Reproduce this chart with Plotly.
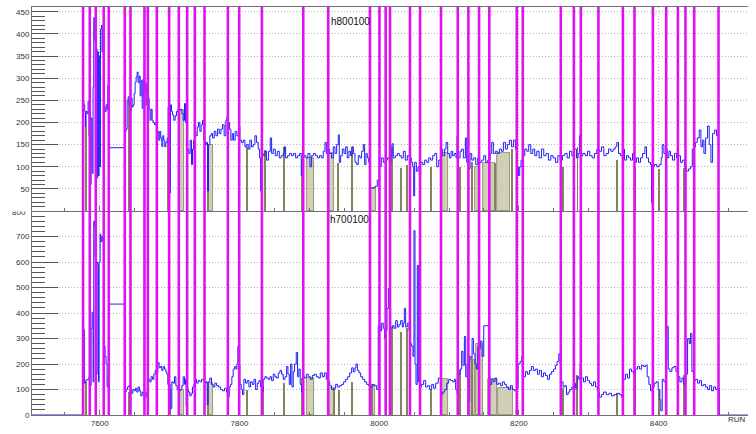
import plotly.graph_objects as go
from plotly.subplots import make_subplots

# ---------------- h800100 : step histogram per run ----------------
top_runs = [7575.5, 7577.1, 7578.5, 7579.5, 7580.4, 7581.9, 7583.3, 7584.7, 7586.1, 7587.6,
            7589.0, 7590.4, 7591.4, 7592.8, 7594.3, 7595.2, 7596.2, 7597.1, 7598.1, 7599.0,
            7600.0, 7601.0, 7602.4, 7603.3, 7604.3, 7605.3, 7606.2, 7607.6, 7609.1, 7610.5,
            7611.5, 7612.9, 7635.8, 7637.7, 7639.2, 7640.6, 7642.0, 7643.5, 7644.9, 7646.3,
            7647.8, 7649.2, 7650.6, 7652.1, 7653.5, 7654.9, 7656.4, 7657.8, 7659.2, 7660.7,
            7662.1, 7663.5, 7665.0, 7666.4, 7667.8, 7669.3, 7670.7, 7672.1, 7673.5, 7675.0,
            7676.4, 7678.3, 7680.2, 7681.7, 7683.1, 7684.5, 7686.0, 7687.4, 7688.8, 7690.3,
            7691.7, 7693.1, 7694.6, 7696.5, 7697.9, 7699.3, 7700.3, 7701.3, 7702.7, 7704.1,
            7706.0, 7707.9, 7709.8, 7711.8, 7713.7, 7715.6, 7717.5, 7719.4, 7721.3, 7722.7,
            7724.2, 7725.6, 7727.5, 7729.4, 7731.3, 7732.8, 7734.2, 7735.6, 7737.5, 7739.5,
            7741.4, 7743.3, 7745.2, 7747.1, 7749.0, 7750.9, 7752.8, 7754.3, 7755.7, 7757.6,
            7759.5, 7761.4, 7763.8, 7766.2, 7768.6, 7771.0, 7773.4, 7775.8, 7778.1, 7780.5,
            7782.0, 7783.9, 7785.8, 7787.7, 7789.7, 7791.6, 7793.9, 7796.3, 7798.7, 7800.6,
            7803.0, 7805.4, 7807.8, 7810.1, 7812.5, 7814.9, 7817.3, 7819.7, 7822.1, 7824.5,
            7826.9, 7828.8, 7830.2, 7831.6, 7834.0, 7836.4, 7838.8, 7841.7, 7844.1, 7846.0,
            7848.4, 7851.2, 7854.1, 7857.0, 7859.8, 7862.7, 7864.1, 7866.0, 7868.9, 7871.8,
            7874.6, 7877.5, 7880.4, 7883.2, 7886.1, 7888.5, 7889.9, 7892.3, 7895.2, 7898.0,
            7900.9, 7903.3, 7906.1, 7909.0, 7911.9, 7914.7, 7917.6, 7920.0, 7922.4, 7924.3,
            7926.7, 7929.1, 7931.9, 7934.3, 7936.7, 7939.1, 7941.5, 7942.9, 7944.8, 7947.2,
            7949.6, 7952.0, 7954.3, 7956.7, 7959.1, 7961.0, 7963.0, 7965.4, 7967.8, 7970.1,
            7972.5, 7974.9, 7977.3, 7979.2, 7981.1, 7983.0, 7984.9, 7987.3, 7994.0, 7997.3,
            8000.2, 8003.0, 8005.9, 8008.8, 8011.6, 8014.5, 8016.9, 8018.3, 8020.2, 8023.1,
            8026.0, 8028.8, 8031.7, 8034.6, 8037.4, 8040.3, 8043.2, 8046.0, 8048.0, 8049.4,
            8050.8, 8053.2, 8055.6, 8057.5, 8059.4, 8062.3, 8065.1, 8068.0, 8070.9, 8073.7,
            8076.6, 8079.5, 8082.3, 8085.2, 8088.5, 8090.9, 8093.8, 8095.7, 8098.1, 8100.5,
            8102.9, 8105.2, 8107.6, 8110.0, 8111.5, 8113.4, 8115.8, 8118.1, 8120.5, 8123.4,
            8125.3, 8127.7, 8130.1, 8132.5, 8135.3, 8138.2, 8141.1, 8143.9, 8146.8, 8149.7,
            8152.5, 8155.4, 8158.7, 8161.1, 8163.5, 8166.4, 8169.2, 8172.1, 8175.0, 8177.8,
            8180.7, 8183.6, 8186.4, 8189.3, 8192.2, 8195.0, 8197.4, 8199.3, 8201.2, 8203.1,
            8205.5, 8208.4, 8211.3, 8214.1, 8217.0, 8219.9, 8222.7, 8225.6, 8228.9, 8232.3,
            8235.6, 8239.0, 8242.3, 8245.7, 8249.0, 8252.3, 8255.7, 8259.0, 8262.4, 8265.7,
            8269.1, 8272.4, 8275.8, 8279.1, 8282.4, 8284.8, 8286.7, 8288.6, 8291.5, 8294.9,
            8298.2, 8301.5, 8304.9, 8308.2, 8311.6, 8314.9, 8318.3, 8321.6, 8325.0, 8328.3,
            8331.6, 8335.0, 8337.8, 8340.2, 8342.6, 8345.5, 8348.3, 8351.2, 8354.1, 8356.9,
            8359.8, 8362.7, 8365.5, 8368.4, 8371.3, 8374.1, 8377.0, 8380.4, 8382.7, 8385.6,
            8388.4, 8389.9, 8391.3, 8394.2, 8397.5, 8400.9, 8403.7, 8405.2, 8407.6, 8410.0,
            8412.3, 8414.7, 8417.1, 8420.0, 8422.9, 8425.7, 8428.6, 8431.4, 8434.3, 8437.2,
            8440.0, 8442.9, 8445.8, 8448.2, 8450.5, 8452.9, 8455.3, 8458.2, 8460.6, 8463.0,
            8464.9, 8467.3, 8470.1, 8472.5, 8474.9, 8477.3, 8480.2, 8483.0, 8485.9]
top_vals = [250, 240, 225, 190, 225, 220, 248, 170, 60, 210,
            85, 280, 437, 385, 340, 366, 75, 360, 80, 350,
            100, 411, 420, 359, 410, 108, 235, 225, 240, 230,
            284, 143, 180, 185, 250, 258, 240, 223, 255, 235,
            240, 265, 291, 303, 314, 290, 305, 260, 295, 232,
            300, 270, 290, 240, 285, 255, 230, 205, 230, 205,
            200, 195, 200, 176, 180, 160, 180, 165, 146, 170,
            160, 145, 155, 165, 235, 225, 41, 240, 225, 217,
            205, 215, 225, 230, 228, 230, 220, 205, 243, 200,
            180, 140, 130, 160, 105, 140, 160, 180, 170, 190,
            200, 180, 195, 205, 160, 150, 155, 45, 150, 170,
            175, 165, 180, 170, 185, 175, 185, 195, 170, 205,
            213, 200, 185, 160, 175, 160, 180, 170, 190, 160,
            155, 160, 145, 150, 140, 160, 145, 150, 170, 155,
            140, 120, 45, 130, 125, 135, 115, 135, 165, 130,
            140, 125, 135, 120, 125, 130, 145, 120, 125, 130,
            125, 130, 120, 125, 130, 80, 120, 125, 120, 130,
            100, 125, 130, 125, 120, 125, 120, 135, 155, 130,
            140, 130, 120, 145, 130, 150, 172, 110, 125, 140,
            130, 145, 120, 135, 125, 145, 130, 110, 105, 125,
            120, 135, 150, 105, 130, 120, 110, 52, 56, 70,
            100, 120, 110, 115, 120, 110, 125, 152, 120, 125,
            130, 125, 120, 135, 115, 125, 120, 110, 100, 34,
            110, 90, 100, 80, 110, 105, 115, 110, 120, 115,
            125, 130, 100, 115, 140, 125, 140, 155, 130, 120,
            135, 125, 130, 120, 170, 120, 135, 140, 120, 165,
            110, 95, 130, 115, 120, 105, 120, 110, 115, 125,
            110, 115, 130, 155, 130, 135, 130, 140, 135, 155,
            140, 150, 160, 145, 160, 140, 100, 80, 100, 115,
            125, 140, 135, 150, 130, 140, 125, 135, 120, 140,
            125, 130, 115, 125, 120, 110, 125, 115, 125, 130,
            120, 135, 125, 140, 120, 130, 170, 125, 130, 125,
            135, 125, 120, 130, 140, 135, 145, 125, 130, 140,
            135, 140, 145, 155, 130, 125, 140, 115, 125, 120,
            115, 130, 110, 120, 110, 120, 130, 145, 120, 110,
            105, 19, 100, 105, 100, 105, 120, 150, 130, 140,
            120, 135, 125, 115, 130, 120, 125, 110, 115, 100,
            90, 95, 100, 140, 145, 155, 165, 183, 145, 160,
            130, 165, 192, 150, 110, 175, 183, 170, 175]

# ---------------- h700100 : step histogram per run ----------------
bot_runs = [7500, 7576.6, 7578.0, 7579.5, 7581.4, 7583.3, 7584.7, 7586.1, 7587.6, 7589.0, 7590.4,
            7591.4, 7592.4, 7593.3, 7594.3, 7595.2, 7596.2, 7597.1, 7598.1, 7599.0, 7600.5,
            7601.4, 7602.9, 7604.3, 7605.3, 7606.2, 7607.6, 7609.1, 7610.5, 7611.9, 7613.4,
            7635.8, 7637.7, 7639.6, 7641.6, 7643.5, 7645.4, 7647.3, 7649.2, 7651.1, 7653.0,
            7654.9, 7656.8, 7658.7, 7660.7, 7662.6, 7664.5, 7666.4, 7668.3, 7669.7, 7671.6,
            7673.5, 7675.5, 7677.4, 7679.3, 7681.2, 7683.1, 7685.0, 7686.9, 7688.8, 7690.7,
            7692.7, 7694.6, 7696.0, 7697.4, 7698.9, 7700.3, 7701.7, 7703.2, 7705.1, 7707.0,
            7708.9, 7710.8, 7713.2, 7715.6, 7717.5, 7719.4, 7721.3, 7722.7, 7723.7, 7725.1,
            7727.0, 7729.0, 7730.9, 7732.8, 7734.7, 7736.6, 7738.5, 7740.9, 7743.3, 7745.7,
            7748.1, 7750.4, 7752.4, 7753.8, 7755.2, 7757.6, 7760.0, 7762.4, 7764.8, 7767.2,
            7770.0, 7772.9, 7775.8, 7778.6, 7781.5, 7783.4, 7785.3, 7787.2, 7789.1, 7791.0,
            7793.0, 7794.9, 7796.3, 7797.7, 7799.2, 7800.6, 7802.5, 7804.4, 7806.3, 7808.7,
            7811.1, 7813.5, 7815.9, 7818.3, 7820.7, 7823.1, 7825.5, 7827.8, 7830.2, 7832.1,
            7834.0, 7836.4, 7838.8, 7841.2, 7843.6, 7846.0, 7848.4, 7850.7, 7853.1, 7855.5,
            7857.9, 7860.3, 7862.7, 7865.1, 7867.5, 7869.4, 7871.3, 7873.2, 7875.1, 7877.0,
            7878.9, 7881.3, 7883.2, 7885.1, 7887.0, 7889.0, 7890.9, 7893.3, 7895.7, 7898.5,
            7901.4, 7904.3, 7907.2, 7910.0, 7912.9, 7915.7, 7918.6, 7921.5, 7924.3, 7926.7,
            7929.1, 7931.9, 7934.8, 7937.7, 7940.5, 7943.4, 7946.3, 7949.1, 7952.0, 7954.9,
            7957.8, 7960.6, 7963.0, 7965.4, 7966.8, 7968.8, 7971.1, 7973.5, 7976.4, 7979.2,
            7982.1, 7985.0, 7987.8, 7990.7, 7993.6, 7996.4, 7998.7, 8001.1, 8003.5, 8005.9,
            8007.8, 8009.7, 8011.2, 8013.1, 8014.5, 8016.4, 8018.8, 8021.2, 8023.6, 8026.0,
            8028.4, 8030.7, 8033.1, 8034.6, 8036.0, 8037.9, 8040.3, 8042.7, 8044.6, 8046.5,
            8048.4, 8049.8, 8051.3, 8052.7, 8054.6, 8056.1, 8058.4, 8060.8, 8063.7, 8066.6,
            8069.4, 8072.3, 8075.2, 8078.0, 8080.9, 8084.7, 8088.0, 8090.9, 8093.8, 8096.6,
            8099.5, 8102.4, 8105.2, 8107.6, 8109.5, 8111.5, 8113.4, 8115.8, 8118.1, 8120.0,
            8122.0, 8123.9, 8125.8, 8127.7, 8129.6, 8131.5, 8133.0, 8134.9, 8137.2, 8139.2,
            8141.1, 8143.0, 8144.9, 8147.3, 8149.7, 8156.4, 8158.7, 8161.1, 8163.5, 8165.9,
            8168.3, 8170.7, 8173.5, 8176.4, 8179.3, 8182.1, 8185.0, 8187.9, 8190.7, 8193.6,
            8196.5, 8198.9, 8201.7, 8204.1, 8206.5, 8209.4, 8212.2, 8215.1, 8218.0, 8220.8,
            8223.7, 8226.6, 8229.4, 8232.3, 8235.2, 8238.0, 8240.9, 8243.8, 8246.6, 8249.5,
            8252.3, 8254.7, 8257.1, 8259.0, 8260.9, 8263.3, 8265.7, 8268.1, 8270.5, 8272.9,
            8275.8, 8278.6, 8281.0, 8283.4, 8285.8, 8287.7, 8289.6, 8292.5, 8295.3, 8298.2,
            8301.1, 8303.9, 8306.8, 8309.7, 8312.5, 8315.4, 8318.2, 8321.1, 8325.0, 8328.8,
            8332.6, 8336.4, 8340.2, 8344.0, 8346.9, 8349.8, 8352.6, 8355.5, 8358.4, 8361.2,
            8364.1, 8367.0, 8369.8, 8372.7, 8375.6, 8378.4, 8381.3, 8383.7, 8386.1, 8388.5,
            8390.9, 8393.7, 8396.6, 8399.4, 8401.8, 8403.2, 8405.2, 8407.6, 8410.0, 8411.9,
            8413.8, 8416.2, 8419.0, 8421.9, 8424.8, 8427.6, 8430.5, 8433.4, 8436.2, 8439.1,
            8441.5, 8443.9, 8445.8, 8447.7, 8450.1, 8453.0, 8455.8, 8458.7, 8461.5, 8464.4,
            8467.3, 8470.1, 8473.0, 8475.9, 8478.7, 8481.6, 8484.0, 8487.0]
bot_vals = [0, 335, 125, 135, 140, 140, 150, 115, 340, 403, 130,
            760, 740, 620, 590, 160, 600, 590, 130, 600, 710,
            680, 700, 680, 120, 270, 230, 200, 110, 150, 435,
            90, 100, 110, 115, 100, 85, 100, 95, 105, 90,
            110, 95, 75, 90, 80, 70, 90, 85, 140, 130,
            150, 140, 160, 175, 165, 205, 185, 190, 175, 190,
            180, 170, 160, 120, 30, 100, 25, 130, 125, 150,
            115, 100, 95, 100, 115, 150, 120, 140, 35, 100,
            90, 75, 85, 110, 120, 140, 125, 135, 130, 140,
            135, 125, 130, 40, 130, 145, 120, 110, 125, 115,
            110, 100, 95, 105, 90, 70, 110, 120, 150, 180,
            190, 180, 200, 270, 200, 120, 100, 80, 140, 125,
            135, 110, 130, 120, 140, 100, 125, 135, 110, 90,
            140, 150, 145, 140, 150, 135, 160, 150, 145, 165,
            175, 160, 140, 150, 190, 160, 120, 200, 110, 170,
            200, 245, 150, 180, 120, 90, 150, 145, 160, 150,
            140, 155, 160, 150, 145, 165, 150, 165, 140, 130,
            115, 100, 105, 120, 110, 115, 120, 130, 140, 150,
            165, 185, 170, 185, 200, 175, 165, 150, 140, 130,
            120, 115, 110, 120, 115, 100, 351, 330, 360, 340,
            300, 330, 418, 496, 420, 340, 350, 340, 370, 345,
            355, 370, 345, 360, 418, 345, 360, 330, 280, 270,
            230, 723, 200, 120, 587, 130, 110, 120, 135, 110,
            115, 100, 120, 105, 125, 145, 80, 90, 100, 125,
            140, 135, 130, 140, 100, 85, 160, 180, 250, 195,
            308, 150, 200, 55, 230, 220, 300, 240, 200, 180,
            270, 260, 290, 230, 350, 150, 120, 140, 130, 145,
            120, 125, 115, 130, 120, 110, 100, 115, 100, 95,
            105, 200, 210, 230, 150, 170, 160, 175, 190, 175,
            180, 160, 175, 150, 165, 155, 140, 160, 170, 180,
            195, 210, 240, 200, 130, 110, 115, 80, 90, 100,
            110, 125, 105, 150, 140, 200, 145, 130, 150, 135,
            125, 115, 130, 110, 90, 70, 80, 90, 80, 85,
            75, 80, 85, 80, 70, 140, 160, 145, 180, 170,
            160, 180, 190, 180, 195, 190, 195, 150, 120, 95,
            110, 125, 130, 100, 60, 16, 140, 130, 220, 347,
            180, 170, 185, 190, 170, 150, 130, 145, 120, 160,
            300, 280, 320, 170, 135, 140, 125, 135, 115, 120,
            110, 100, 115, 95, 110, 100, 105, 0]

# runs with no data after the last recorded run (empty bins drawn on the axis)
bot_tail_runs = [8487.0, 8530]
bot_tail_vals = [0, 0]

# runs marked with vertical magenta lines
marked_runs = [7576.1, 7585.7, 7594.3, 7605.7, 7612.9, 7635.8, 7644.0, 7664.0, 7668.8,
               7681.7, 7699.3, 7713.2, 7725.1, 7736.1, 7750.0, 7783.4, 7799.6, 7832.1,
               7891.3, 7927.1, 7986.8, 8000.4, 8009.3, 8015.5, 8044.1, 8058.5, 8088.5,
               8112.5, 8127.7, 8143.0, 8157.7, 8197.0, 8205.6, 8260.0, 8278.7, 8288.7,
               8313.9, 8348.9, 8365.5, 8391.8, 8410.9, 8427.6, 8438.5, 8451.0, 8485.8]

# flagged single runs (olive bars)
top_flag_runs = [7580.0, 7642.0, 7697.9, 7755.2, 7810.1, 7836.4, 7863.6, 7889.0, 7941.5,
                 7960.6, 8017.8, 8030.7, 8039.3, 8074.2, 8115.8, 8132.5, 8165.9, 8189.8,
                 8263.8, 8283.9, 8340.2, 8366.5, 8400.9, 8436.7]
top_flag_vals = [190, 250, 160, 150, 145, 138, 145, 115, 108,
                 145, 145, 97, 105, 100, 100, 110, 108, 140,
                 100, 145, 115, 100, 95, 98]
bot_flag_runs = [7580.0, 7613.4, 7642.0, 7700.3, 7755.2, 7810.1, 7834.0, 7863.6, 7889.0,
                 7936.0, 7943.0, 7960.6, 7989.5, 8017.8, 8030.7, 8039.3, 8074.2, 8115.8,
                 8132.5, 8263.8, 8283.0, 8340.2, 8366.5, 8400.9, 8436.7]
bot_flag_vals = [130, 435, 90, 120, 125, 100, 115, 125, 145,
                 105, 100, 130, 120, 347, 327, 340, 100, 178,
                 217, 105, 158, 87, 158, 100, 158]

# flagged run ranges (filled)
top_span_start = [7713.0, 7755.0, 7896.0, 7927.0, 7988.0, 8089.5, 8137.2, 8149.2, 8168.3]
top_span_end = [7720.0, 7762.0, 7906.0, 7935.0, 7996.0, 8099.0, 8144.4, 8165.9, 8187.4]
top_span_vals = [228, 150, 120, 130, 52, 130, 100, 108, 130]
bot_span_start = [7713.0, 7755.0, 7896.0, 7927.0, 7987.0, 8089.5, 8130.0, 8138.7, 8156.4, 8170.7]
bot_span_end = [7720.0, 7762.0, 7906.0, 7935.0, 7994.0, 8099.0, 8137.0, 8149.2, 8168.3, 8192.2]
bot_span_vals = [100, 125, 145, 105, 115, 140, 217, 280, 140, 106]

x_tick_vals = [7600, 7800, 8000, 8200, 8400]
top_tick_vals = [50, 100, 150, 200, 250, 300, 350, 400, 450]
bot_tick_vals = [0, 100, 200, 300, 400, 500, 600, 700]

BLUE = "#1f1fff"
OLIVE = "#84845a"
KHAKI = "rgba(196,196,168,0.8)"
MAGENTA = "#e010f2"
AXIS = "#707070"
GRID = "#b4b4b4"
FONT = "Liberation Sans, Arial, sans-serif"

fig = make_subplots(rows=2, cols=1, shared_xaxes=True, vertical_spacing=0)

panels = [
    (1, top_runs, top_vals, top_flag_runs, top_flag_vals, top_span_start, top_span_end, top_span_vals),
    (2, bot_runs, bot_vals, bot_flag_runs, bot_flag_vals, bot_span_start, bot_span_end, bot_span_vals),
]
for row, runs, vals, fr, fv, s0, s1, sv in panels:
    fig.add_trace(go.Bar(x=[(a + b) / 2 for a, b in zip(s0, s1)], y=sv,
                         width=[b - a for a, b in zip(s0, s1)],
                         marker=dict(color=KHAKI, line=dict(color=OLIVE, width=0.8)),
                         hoverinfo="skip", showlegend=False), row=row, col=1)
    fig.add_trace(go.Bar(x=fr, y=fv, width=1.4, marker=dict(color=OLIVE, line=dict(width=0)),
                         hoverinfo="skip", showlegend=False), row=row, col=1)
    fig.add_trace(go.Scatter(x=runs, y=vals, mode="lines", line=dict(color=BLUE, width=1, shape="hv"),
                             hoverinfo="skip", showlegend=False), row=row, col=1)

fig.add_trace(go.Scatter(x=bot_tail_runs, y=bot_tail_vals, mode="lines",
                         line=dict(color="#7f7fff", width=1.5, shape="hv"),
                         hoverinfo="skip", showlegend=False), row=2, col=1)

for r in marked_runs:
    fig.add_shape(type="line", xref="x", yref="paper", x0=r, x1=r, y0=0, y1=1,
                  line=dict(color=MAGENTA, width=2.6), layer="above")

xcommon = dict(range=[7503, 8528], tickvals=x_tick_vals, ticks="inside", ticklen=5,
               tickcolor=AXIS, showline=True, linecolor=AXIS, linewidth=1,
               showgrid=True, gridcolor=GRID, griddash="1px,2px", gridwidth=1,
               minor=dict(dtick=50, tick0=7500, ticks="inside", ticklen=3, tickcolor=AXIS, showgrid=False),
               zeroline=False, tickfont=dict(family=FONT, size=8, color="#333"))
fig.update_xaxes(**xcommon)
fig.update_xaxes(showticklabels=False, mirror=True, row=1, col=1)
fig.update_xaxes(showticklabels=True, row=2, col=1)

ycommon = dict(ticks="inside", ticklen=26, tickcolor="#555", showline=True, linecolor=AXIS,
               linewidth=1, showgrid=True, gridcolor=GRID, griddash="1px,2px", gridwidth=1,
               zeroline=False, tickfont=dict(family=FONT, size=8, color="#333"))
fig.update_yaxes(range=[0, 461], tickvals=top_tick_vals,
                 minor=dict(dtick=10, tick0=0, ticks="inside", ticklen=13, tickcolor="#555", showgrid=False),
                 row=1, col=1, **ycommon)
fig.update_yaxes(range=[0, 800], tickvals=bot_tick_vals,
                 minor=dict(dtick=20, tick0=0, ticks="inside", ticklen=13, tickcolor="#555", showgrid=False),
                 row=2, col=1, **ycommon)
fig.update_yaxes(domain=[0.5, 1.0], row=1, col=1)
fig.update_yaxes(domain=[0.0, 0.5], row=2, col=1)

annotations = [
    dict(text="h800100", x=0.4455, y=0.983, xref="paper", yref="paper", showarrow=False,
         font=dict(family=FONT, size=10, color="#111")),
    dict(text="h700100", x=0.444, y=0.479, xref="paper", yref="paper", showarrow=False,
         font=dict(family=FONT, size=10, color="#111")),
    dict(text="RUN", x=1.0, y=-0.027, xref="paper", yref="paper", xanchor="right", showarrow=False,
         font=dict(family=FONT, size=8, color="#333")),
    # top scale value of the lower pad, half hidden under the upper pad
    dict(text="800", x=-0.006, y=0.497, xref="paper", yref="paper", xanchor="right", yanchor="middle",
         showarrow=False, font=dict(family=FONT, size=8, color="#333")),
    dict(text="&nbsp;&nbsp;&nbsp;&nbsp;&nbsp;&nbsp;", x=-0.003, y=0.4975, xref="paper", yref="paper",
         xanchor="right", yanchor="bottom", showarrow=False, width=24, height=10,
         bgcolor="white", borderpad=0, font=dict(size=6)),
]
fig.update_layout(width=756, height=434, margin=dict(l=32, r=8, t=6, b=17),
                  paper_bgcolor="white", plot_bgcolor="white", barmode="overlay", bargap=0,
                  annotations=annotations, showlegend=False)

fig.write_html("out.html")
